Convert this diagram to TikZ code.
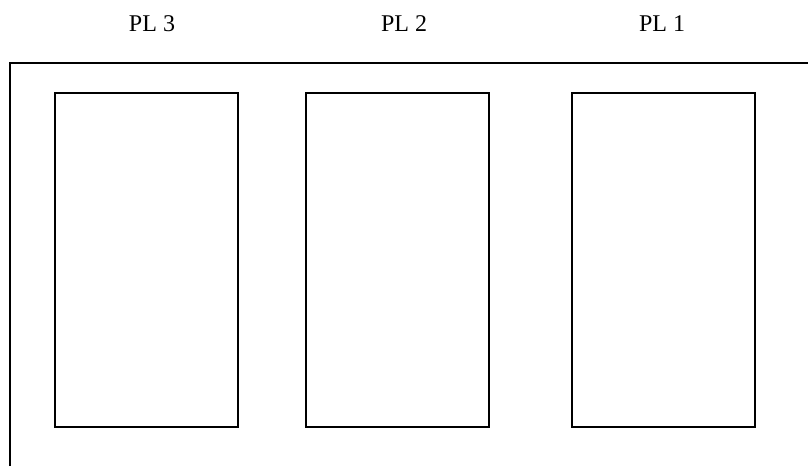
\documentclass[tikz,border=0pt]{standalone}
\usepackage{fontspec}
\setmainfont{Liberation Serif}
\begin{document}
\begin{tikzpicture}[x=1pt,y=-1pt,line width=1.2pt]
				\useasboundingbox (0,0) rectangle (808,466);
				% outer frame, open at right and bottom
				\draw (10,466) -- (10,63) -- (808,63);

				\draw (55,93) rectangle (238,427);
				\draw (306,93) rectangle (489,427);
				\draw (572,93) rectangle (755,427);

				\node[font=\fontsize{24}{28}\selectfont] (pl3) at (152,24) {PL 3};
				\node[font=\fontsize{24}{28}\selectfont] (pl2) at (404,24) {PL 2};
				\node[font=\fontsize{24}{28}\selectfont] (pl1) at (662,24) {PL 1};

		\end{tikzpicture}
\end{document}
